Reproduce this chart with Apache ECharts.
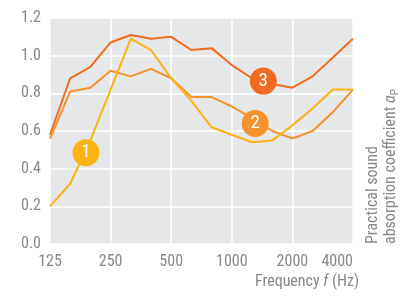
<!DOCTYPE html>
<html>
<head>
<meta charset="utf-8">
<script src="https://cdn.jsdelivr.net/npm/echarts@6/dist/echarts.min.js"></script>
<style>
  html, body { margin: 0; padding: 0; background: #fff; }
  #chart { width: 419px; height: 296px; }
</style>
</head>
<body>
<div id="chart"></div>
<script>
// 1/3-octave band centre frequencies (Hz)
const frequencies = [125, 160, 200, 250, 315, 400, 500, 630, 800, 1000, 1250, 1600, 2000, 2500, 3150, 4000];
const yTicks = [0, 0.2, 0.4, 0.6, 0.8, 1.0, 1.2];

// practical sound absorption coefficient per band
const curve1 = [0.20, 0.32, 0.55, 0.82, 1.09, 1.03, 0.88, 0.76, 0.62, 0.58, 0.54, 0.55, 0.63, 0.72, 0.82, 0.82];
const curve2 = [0.56, 0.81, 0.83, 0.92, 0.89, 0.93, 0.88, 0.78, 0.78, 0.73, 0.67, 0.60, 0.56, 0.60, 0.70, 0.82];
const curve3 = [0.58, 0.88, 0.94, 1.07, 1.11, 1.09, 1.10, 1.03, 1.04, 0.95, 0.88, 0.85, 0.83, 0.89, 0.99, 1.09];

// curve number badges: [band index, value]
const badges = [[1.78, 0.485], [10.16, 0.64], [10.56, 0.865]];
const names = ['1', '2', '3'];
const colors = ['#fbb316', '#f7922f', '#f26b22'];

const textColor = '#86888b';
const font = "'Liberation Sans Narrow', 'Roboto Condensed', 'Liberation Sans', sans-serif";

const chart = echarts.init(document.getElementById('chart'));

function makeSeries(idx, values) {
  return {
    name: names[idx],
    type: 'line',
    data: values.map((v, i) => [i, v]),
    symbol: 'none',
    lineStyle: { color: colors[idx], width: 2 },
    z: 2 + (2 - idx),
    markPoint: {
      symbol: 'circle',
      symbolSize: 27,
      itemStyle: { color: colors[idx] },
      label: {
        show: true,
        formatter: names[idx],
        color: '#fff',
        fontSize: 19,
        fontFamily: font
      },
      data: [{ coord: badges[idx] }],
      z: 10
    }
  };
}

chart.setOption({
  animation: false,
  grid: {
    left: 50,
    right: 66,
    top: 18,
    bottom: 52,
    show: true,
    backgroundColor: '#e6e7e8',
    borderWidth: 0
  },
  xAxis: {
    type: 'value',
    min: 0,
    max: frequencies.length - 1,
    interval: 3,
    axisLine: { show: false },
    axisTick: { show: false },
    splitLine: { lineStyle: { color: '#fff', width: 1.5 } },
    axisLabel: {
      color: textColor,
      fontSize: 16,
      fontFamily: font,
      margin: 10,
      alignMaxLabel: 'right',
      formatter: v => frequencies[v]
    },
    name: 'Frequency {i|f} (Hz)',
    nameLocation: 'end',
    nameGap: 6,
    nameTextStyle: {
      color: textColor,
      fontSize: 16,
      fontFamily: font,
      align: 'right',
      verticalAlign: 'top',
      padding: [30, 0, 0, 0],
      rich: {
        i: { fontStyle: 'italic', color: textColor, fontSize: 16, fontFamily: font }
      }
    }
  },
  yAxis: {
    type: 'value',
    min: yTicks[0],
    max: yTicks[yTicks.length - 1],
    interval: 0.2,
    axisLine: { show: false },
    axisTick: { show: false },
    splitLine: { lineStyle: { color: '#fff', width: 1.5 } },
    axisLabel: {
      color: textColor,
      fontSize: 16,
      fontFamily: font,
      margin: 9,
      formatter: v => v.toFixed(1)
    }
  },
  graphic: [{
    type: 'text',
    x: 363.5,
    y: 244,
    rotation: Math.PI / 2,
    style: {
      text: 'Practical sound\nabsorption coefficient {a|α}{s|P}',
      fill: textColor,
      fontSize: 16,
      fontFamily: font,
      lineHeight: 18.5,
      align: 'left',
      verticalAlign: 'top',
      rich: {
        a: { fontStyle: 'italic', fontSize: 16, fontFamily: font, fill: textColor, lineHeight: 18.5 },
        s: { fontSize: 11, fontFamily: font, fill: textColor, verticalAlign: 'bottom', lineHeight: 18.5, padding: [4, 0, 0, 0] }
      }
    }
  }],
  series: [
    makeSeries(2, curve3),
    makeSeries(1, curve2),
    makeSeries(0, curve1)
  ]
});
</script>
</body>
</html>
